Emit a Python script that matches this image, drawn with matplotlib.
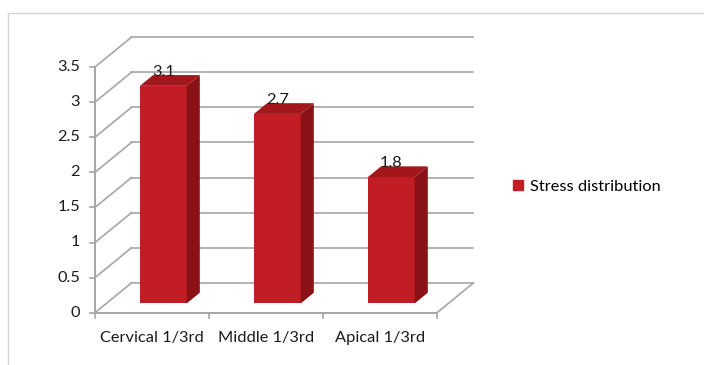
import matplotlib.pyplot as plt
from matplotlib.patches import Polygon, Patch
from matplotlib.lines import Line2D

# data
categories = ['Cervical 1/3rd', 'Middle 1/3rd', 'Apical 1/3rd']
values = [3.1, 2.7, 1.8]
series_name = 'Stress distribution'
y_ticks = [0, 0.5, 1, 1.5, 2, 2.5, 3, 3.5]

# fake 3D depth (in data units) for the Excel-like look
dx, dy = 0.32, 0.425
d0, d1 = 0.31, 0.67   # bar front / back depth fraction
bar_w = 0.41

front_c = '#c21d24'
side_c = '#8a1115'
top_c = '#a3161c'
grid_c = '#a6a6a6'
txt_c = '#1a1a1a'
fs = 11.8

plt.rcParams['font.family'] = ['Lato', 'DejaVu Sans']

fig = plt.figure(figsize=(7.04, 3.65), dpi=100)
ax = fig.add_axes([0, 0, 1, 1])
ax.set_xlim(-95 / 114, (704 - 95) / 114)
ax.set_ylim(-(365 - 312.7) / 70.2, 312.7 / 70.2)
ax.axis('off')

n = len(categories)

# wall grid lines
for v in y_ticks:
    ax.plot([0, dx], [v, v + dy], color=grid_c, lw=1.2, zorder=1)
    ax.plot([dx, n + dx], [v + dy, v + dy], color=grid_c, lw=1.2, zorder=1)
# floor edges
ax.plot([n, n + dx], [0, dy], color=grid_c, lw=1.2, zorder=1)
ax.plot([0, n], [0, 0], color=grid_c, lw=1.4, zorder=1)
ax.plot([0, 0], [0, y_ticks[-1]], color=grid_c, lw=1.4, zorder=1)

# x tick marks
for i in range(n + 1):
    ax.plot([i, i], [0, -0.08], color=grid_c, lw=1.2, zorder=1)
# y tick marks
for v in y_ticks:
    ax.plot([-0.04, 0], [v, v], color=grid_c, lw=1.2, zorder=1)
    ax.text(-0.13, v, f'{v:g}', ha='right', va='center', fontsize=fs, color=txt_c)

# bars: front faces through ax.bar, side and top faces as polygons
xs = [i + 0.5 + d0 * dx for i in range(n)]
ax.bar(xs, values, width=bar_w, bottom=d0 * dy, color=front_c, zorder=3)
for x, v in zip(xs, values):
    l, r = x - bar_w / 2, x + bar_w / 2
    b, t = d0 * dy, v + d0 * dy
    ox, oy = (d1 - d0) * dx, (d1 - d0) * dy
    ax.add_patch(Polygon([(r, b), (r + ox, b + oy), (r + ox, t + oy), (r, t)],
                         closed=True, color=side_c, lw=0, zorder=3))
    ax.add_patch(Polygon([(l, t), (r, t), (r + ox, t + oy), (l + ox, t + oy)],
                         closed=True, color=top_c, lw=0, zorder=3))
    ax.text(x, t + oy - 0.05, f'{v:g}', ha='center', va='bottom', fontsize=fs,
            color=txt_c, zorder=4)

for i, c in enumerate(categories):
    ax.text(i + 0.5, -0.26, c, ha='center', va='top', fontsize=fs, color=txt_c)

# legend
ax.legend(handles=[Patch(color=front_c, label=series_name)], loc='center left',
          bbox_to_anchor=(505 / 704, 1 - 187 / 365), frameon=False, fontsize=fs,
          handlelength=0.6, handleheight=0.6, handletextpad=0.4, borderpad=0)

# chart border
fig.add_artist(Line2D([8 / 704, 1], [1 - 13 / 365] * 2, color='#d4d4d4', lw=1))
fig.add_artist(Line2D([8 / 704] * 2, [0, 1 - 13 / 365], color='#d4d4d4', lw=1))

fig.savefig('out.png', dpi=100)
